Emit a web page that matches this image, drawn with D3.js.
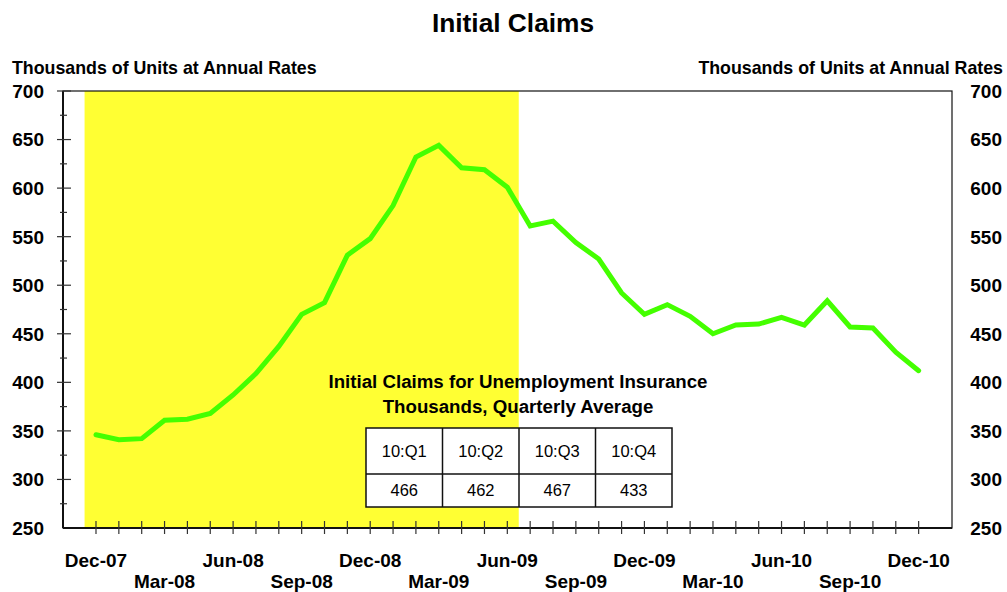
<!DOCTYPE html>
<html>
<head>
<meta charset="utf-8">
<script src="https://cdn.jsdelivr.net/npm/d3@7"></script>
<style>
  html, body { margin: 0; padding: 0; background: #fff; }
  svg { display: block; font-family: Arial, "Liberation Sans", sans-serif; }
</style>
</head>
<body>
<svg id="chart" width="1007" height="592"></svg>
<script>
// Monthly initial claims, Dec-07 .. Dec-10 (thousands)
const months = [
  "Dec-07","Jan-08","Feb-08","Mar-08","Apr-08","May-08","Jun-08","Jul-08","Aug-08","Sep-08","Oct-08","Nov-08",
  "Dec-08","Jan-09","Feb-09","Mar-09","Apr-09","May-09","Jun-09","Jul-09","Aug-09","Sep-09","Oct-09","Nov-09",
  "Dec-09","Jan-10","Feb-10","Mar-10","Apr-10","May-10","Jun-10","Jul-10","Aug-10","Sep-10","Oct-10","Nov-10",
  "Dec-10"
];
const claims = [
  346, 341, 342, 361, 362, 368, 387, 409, 437, 470, 482, 531,
  548, 582, 632, 644, 621, 619, 601, 561, 566, 544, 527, 492,
  470, 480, 468, 450, 459, 460, 467, 459, 484, 457, 456, 431,
  412
];
// Quarterly tick labels along the bottom axis
const quarterLabels = ["Dec-07","Mar-08","Jun-08","Sep-08","Dec-08","Mar-09","Jun-09","Sep-09","Dec-09","Mar-10","Jun-10","Sep-10","Dec-10"];
// Recession shading: first and last month
const recession = ["Dec-07", "Jun-09"];
// Y axis ticks
const yTicks = [250, 300, 350, 400, 450, 500, 550, 600, 650, 700];
const yMinorTicks = [275, 325, 375, 425, 475, 525, 575, 625, 675];
// Quarterly averages table
const quarters = ["10:Q1", "10:Q2", "10:Q3", "10:Q4"];
const quarterAvg = [466, 462, 467, 433];

const svg = d3.select("#chart");
const L = 63, R = 952, T = 91, B = 528;

const x = d3.scaleLinear().domain([-1.444, months.length - 1 + 1.46]).range([L, R]);
const y = d3.scaleLinear().domain([250, 700]).range([B, T]);
const xi = m => months.indexOf(m);

// Recession band
svg.append("rect")
  .attr("x", x(xi(recession[0]) - 0.5))
  .attr("y", T)
  .attr("width", x(xi(recession[1]) + 0.5) - x(xi(recession[0]) - 0.5))
  .attr("height", B - T + 1)
  .attr("fill", "#ffff33");

// Frame
svg.append("rect").attr("x", L).attr("y", T).attr("width", R - L).attr("height", B - T)
  .attr("fill", "none").attr("stroke", "#111").attr("stroke-width", 1.2);
svg.append("line").attr("x1", L).attr("x2", L).attr("y1", T).attr("y2", B)
  .attr("stroke", "#111").attr("stroke-width", 2);
svg.append("line").attr("x1", L).attr("x2", R).attr("y1", B).attr("y2", B)
  .attr("stroke", "#111").attr("stroke-width", 2);

// Left axis: major + minor ticks crossing the axis line
const gy = svg.append("g").attr("transform", `translate(${L},0)`)
  .call(d3.axisLeft(y).tickValues(yTicks).tickSize(0).tickFormat(""));
gy.select(".domain").remove();
svg.append("g").selectAll("line").data(yTicks.slice(1)).join("line")
  .attr("x1", L - 6).attr("x2", L + 8).attr("y1", d => y(d)).attr("y2", d => y(d))
  .attr("stroke", "#333").attr("stroke-width", 1.2);
svg.append("g").selectAll("line").data(yMinorTicks).join("line")
  .attr("x1", L - 3).attr("x2", L + 4).attr("y1", d => y(d)).attr("y2", d => y(d))
  .attr("stroke", "#333").attr("stroke-width", 1.2);

// Y labels, both sides
svg.append("g").selectAll("text").data(yTicks).join("text")
  .attr("x", 44).attr("y", d => y(d)).attr("dy", "0.36em")
  .attr("text-anchor", "end").attr("font-size", 19).attr("font-weight", "bold")
  .attr("fill", "#000").text(d => d);
svg.append("g").selectAll("text").data(yTicks).join("text")
  .attr("x", 1002).attr("y", d => y(d)).attr("dy", "0.36em")
  .attr("text-anchor", "end").attr("font-size", 19).attr("font-weight", "bold")
  .attr("fill", "#000").text(d => d);

// Monthly ticks on the bottom axis
svg.append("g").selectAll("line").data(months).join("line")
  .attr("x1", (d, i) => x(i)).attr("x2", (d, i) => x(i))
  .attr("y1", B - 7).attr("y2", B + 6)
  .attr("stroke", "#333").attr("stroke-width", 1.2);

// Quarterly labels in two staggered rows
svg.append("g").selectAll("text").data(quarterLabels).join("text")
  .attr("x", d => x(xi(d)))
  .attr("y", (d, i) => i % 2 === 0 ? 567 : 588)
  .attr("text-anchor", "middle").attr("font-size", 19).attr("font-weight", "bold")
  .attr("fill", "#000").text(d => d);

// Claims line
svg.append("path").datum(claims)
  .attr("d", d3.line().x((d, i) => x(i)).y(d => y(d)))
  .attr("fill", "none").attr("stroke", "#44ff00").attr("stroke-width", 5)
  .attr("stroke-linejoin", "miter").attr("stroke-linecap", "round");

// Titles
svg.append("text").attr("x", 513).attr("y", 32).attr("text-anchor", "middle")
  .attr("font-size", 26.3).attr("font-weight", "bold").text("Initial Claims");
svg.append("text").attr("x", 12).attr("y", 74).attr("font-size", 17.8).attr("font-weight", "bold")
  .text("Thousands of Units at Annual Rates");
svg.append("text").attr("x", 1003).attr("y", 74).attr("text-anchor", "end")
  .attr("font-size", 17.8).attr("font-weight", "bold")
  .text("Thousands of Units at Annual Rates");

// Quarterly average table
svg.append("text").attr("x", 518).attr("y", 388).attr("text-anchor", "middle")
  .attr("font-size", 18.7).attr("font-weight", "bold").text("Initial Claims for Unemployment Insurance");
svg.append("text").attr("x", 518).attr("y", 413).attr("text-anchor", "middle")
  .attr("font-size", 18.7).attr("font-weight", "bold").text("Thousands, Quarterly Average");

const tx = d3.scaleBand().domain(quarters).range([366, 672]);
const rowTop = 428, rowMid = 474, rowBot = 507;
const tbl = svg.append("g");
tbl.append("rect").attr("x", 366).attr("y", rowTop).attr("width", 306).attr("height", rowBot - rowTop)
  .attr("fill", "#fff").attr("stroke", "#111").attr("stroke-width", 1.5);
tbl.append("line").attr("x1", 366).attr("x2", 672).attr("y1", rowMid).attr("y2", rowMid)
  .attr("stroke", "#111").attr("stroke-width", 1.5);
tbl.selectAll("line.col").data(quarters.slice(1)).join("line").attr("class", "col")
  .attr("x1", d => tx(d)).attr("x2", d => tx(d)).attr("y1", rowTop).attr("y2", rowBot)
  .attr("stroke", "#111").attr("stroke-width", 1.5);
tbl.selectAll("text.q").data(quarters).join("text").attr("class", "q")
  .attr("x", d => tx(d) + tx.bandwidth() / 2).attr("y", (rowTop + rowMid) / 2).attr("dy", "0.36em")
  .attr("text-anchor", "middle").attr("font-size", 16.5).text(d => d);
tbl.selectAll("text.v").data(quarterAvg).join("text").attr("class", "v")
  .attr("x", (d, i) => tx(quarters[i]) + tx.bandwidth() / 2).attr("y", (rowMid + rowBot) / 2).attr("dy", "0.36em")
  .attr("text-anchor", "middle").attr("font-size", 16.5).text(d => d);
</script>
</body>
</html>
